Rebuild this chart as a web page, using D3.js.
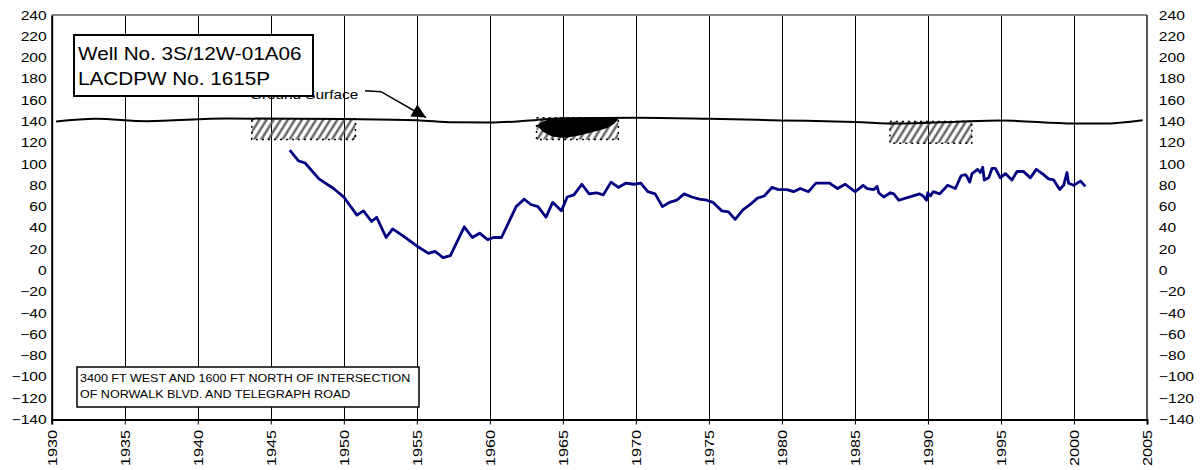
<!DOCTYPE html>
<html><head><meta charset="utf-8">
<script src="https://cdn.jsdelivr.net/npm/d3@7"></script>
<style>body{margin:0;background:#fff;} svg{display:block;font-family:"Liberation Sans",Arial,sans-serif;}</style>
</head><body>
<svg id="c" width="1202" height="470"></svg>
<script>
// water level data (year, elevation ft)
const wlYears = [1946.3,1946.9,1947.35,1948.3,1949.3,1950.0,1950.9,1951.35,1951.9,1952.25,1952.9,1953.35,1954.1,1955.0,1955.8,1956.25,1956.8,1957.3,1958.25,1958.8,1959.3,1959.85,1960.25,1960.8,1961.8,1962.35,1962.8,1963.3,1963.85,1964.3,1964.9,1965.3,1965.76,1966.3,1966.8,1967.3,1967.77,1968.3,1968.8,1969.3,1969.87,1970.34,1970.82,1971.32,1971.82,1972.3,1972.8,1973.3,1973.83,1974.35,1974.86,1975.27,1975.89,1976.34,1976.8,1977.33,1977.83,1978.33,1978.79,1979.32,1979.77,1980.34,1980.8,1981.25,1981.82,1982.33,1983.26,1983.81,1984.34,1984.91,1985.03,1985.56,1985.83,1986.29,1986.52,1986.63,1986.97,1987.43,1987.66,1988.0,1989.44,1989.67,1989.9,1989.99,1990.17,1990.36,1990.81,1991.35,1991.88,1992.27,1992.57,1992.68,1992.86,1993.02,1993.4,1993.59,1993.75,1993.86,1994.16,1994.39,1994.61,1994.96,1995.3,1995.75,1996.1,1996.55,1997.01,1997.42,1997.92,1998.26,1998.61,1999.02,1999.29,1999.52,1999.63,1999.98,2000.44,2000.78];
const wlValues = [113,103,101,86,77,69,52,56,46,50,31,39,32,23,16,18,12,14,41,31,35,29,31,31,60,67,62,60,50,64,56,69,71,81,72,73,71,83,78,82,81,82,74,72,60,64,66,72,69,67,66,64,56,55,48,57,62,68,70,78,76,76,74,77,74,82,82,77,81,75,74,80,77,76,79,73,69,73,72,66,72,70,66,73,70,74,72,80,77,89,90,88,83,91,95,92,97,85,87,96,96,87,91,85,93,93,87,95,90,86,85,76,80,92,82,80,84,79];

// ground surface elevation
const gsYears = [1930.3,1933,1936.5,1942,1950,1955,1957.5,1960,1962.7,1965,1970,1975,1980,1985,1988,1992,1995,2000,2002,2004.7];
const gsValues = [140,142.5,140.3,142.8,142.2,141.2,139.2,139,140.8,143,143.5,142.5,141,139.5,138,139.8,140.8,138,138,141.2];

// perforation intervals (hatched boxes)
const boxStart = [1943.7, 1963.2, 1987.4];
const boxEnd   = [1950.8, 1968.8, 1993.0];
const boxTop   = [142.5, 143.5, 140];
const boxBottom= [123, 123, 119.6];

// black filled shape
const blkYears = [1963.22,1963.7,1964.1,1966.0,1968.81,1968.5,1968.0,1967.2,1966.2,1965.16,1964.25,1963.67];
const blkValues = [136.1,140.5,142,142.5,142.4,137.5,133.5,130.5,127,124.5,125.8,130];

const xTicks = d3.range(1930, 2006, 5);
const yTicks = d3.range(-140, 241, 20);

const titleLines = ["Well No. 3S/12W-01A06", "LACDPW No. 1615P"];
const locLines = ["3400 FT WEST AND 1600 FT NORTH OF INTERSECTION", "OF NORWALK BLVD. AND TELEGRAPH ROAD"];
const gsLabel = "Ground Surface";

const svg = d3.select("#c");
const L = 51.7, R = 1147, T = 15, B = 419.5;
const x = d3.scaleLinear().domain([1930, 2005]).range([L, R]);
const y = d3.scaleLinear().domain([-140, 240]).range([B, T]);
const SX = 1.25;

const defs = svg.append("defs");
const pat = defs.append("pattern").attr("id","hatch").attr("patternUnits","userSpaceOnUse")
  .attr("width",6).attr("height",6).attr("patternTransform","rotate(32)");
pat.append("line").attr("x1",1.5).attr("y1",0).attr("x2",1.5).attr("y2",6)
  .attr("stroke","#555").attr("stroke-width",2.2);

// vertical gridlines
svg.append("g").selectAll("line").data(xTicks.slice(1,-1)).join("line")
  .attr("x1",d=>Math.round(x(d))+0.5).attr("x2",d=>Math.round(x(d))+0.5).attr("y1",T).attr("y2",B)
  .attr("stroke","#000").attr("stroke-width",1);

// plot border
svg.append("line").attr("x1",L).attr("x2",R).attr("y1",T).attr("y2",T).attr("stroke","#888").attr("stroke-width",2);
svg.append("line").attr("x1",R).attr("x2",R).attr("y1",T).attr("y2",B).attr("stroke","#222").attr("stroke-width",1.5);

// hatched boxes
const boxes = boxStart.map((s,i)=>({s, e: boxEnd[i], t: boxTop[i], b: boxBottom[i]}));
svg.append("g").selectAll("rect").data(boxes).join("rect")
  .attr("x",d=>x(d.s)).attr("y",d=>y(d.t)).attr("width",d=>x(d.e)-x(d.s)).attr("height",d=>y(d.b)-y(d.t))
  .attr("fill","url(#hatch)").attr("stroke","#000").attr("stroke-width",1.5).attr("stroke-dasharray","2,4");

// black shape
svg.append("path").datum(blkYears.map((d,i)=>[d, blkValues[i]]))
  .attr("d", d3.line().x(d=>x(d[0])).y(d=>y(d[1])).curve(d3.curveLinearClosed))
  .attr("fill","#000");

// ground surface line
svg.append("path").datum(gsYears.map((d,i)=>[d, gsValues[i]]))
  .attr("d", d3.line().x(d=>x(d[0])).y(d=>y(d[1])).curve(d3.curveMonotoneX))
  .attr("fill","none").attr("stroke","#000").attr("stroke-width",2);

// water level line
svg.append("path").datum(wlYears.map((d,i)=>[d, wlValues[i]]))
  .attr("d", d3.line().x(d=>x(d[0])).y(d=>y(d[1])))
  .attr("fill","none").attr("stroke","#000080").attr("stroke-width",2.8).attr("stroke-linejoin","round");

// Ground surface label + arrow
svg.append("text").attr("transform","translate(250,99) scale(1.18,1)").attr("font-size",13).text(gsLabel);
defs.append("marker").attr("id","arr").attr("viewBox","0 0 10 10").attr("refX",10).attr("refY",5)
  .attr("markerWidth",15).attr("markerHeight",14).attr("markerUnits","userSpaceOnUse").attr("orient","auto")
  .append("path").attr("d","M0,0L10,5L0,10Z").attr("fill","#000");
svg.append("path").attr("d","M365,90.7L381,91.7L426,117.5").attr("fill","none").attr("stroke","#000")
  .attr("stroke-width",1.5).attr("marker-end","url(#arr)");

// axes
const yAxisL = svg.append("g").attr("transform",`translate(${L},0)`)
  .call(d3.axisLeft(y).tickValues(yTicks).tickSize(0).tickPadding(4));
yAxisL.select(".domain").attr("stroke","#000").attr("stroke-width",2);
const yAxisR = svg.append("g").attr("transform",`translate(${R},0)`)
  .call(d3.axisRight(y).tickValues(yTicks).tickSize(0).tickPadding(9.5));
yAxisR.select(".domain").remove();
[yAxisL, yAxisR].forEach(g=>g.selectAll("text").attr("font-size",12.5).attr("font-family","Liberation Sans, Arial")
  .attr("fill","#000").attr("transform",`scale(${SX},1)`));

const xAxis = svg.append("g").attr("transform",`translate(0,${B})`)
  .call(d3.axisBottom(x).tickValues(xTicks).tickFormat(d3.format("d")).tickSize(5).tickPadding(3));
xAxis.select(".domain").attr("stroke","#000").attr("stroke-width",2);
xAxis.selectAll("line").attr("stroke","#000");
xAxis.selectAll("text").attr("font-size",12.5).attr("font-family","Liberation Sans, Arial").attr("fill","#000")
  .attr("transform",`rotate(-90) scale(1.3,1)`).attr("text-anchor","end").attr("dy","0.35em").attr("x",-8).attr("y",0);

// title box
const tb = svg.append("g");
tb.append("rect").attr("x",74).attr("y",35).attr("width",239).attr("height",61).attr("fill","#fff").attr("stroke","#000").attr("stroke-width",2);
tb.selectAll("text").data(titleLines).join("text").attr("transform",(d,i)=>`translate(78,${60+i*25}) scale(1.12,1)`)
  .attr("font-size",18.5).text(d=>d);

// location box
const lb = svg.append("g");
lb.append("rect").attr("x",77).attr("y",367).attr("width",342).attr("height",40).attr("fill","#fff").attr("stroke","#000").attr("stroke-width",1.5);
lb.selectAll("text").data(locLines).join("text").attr("transform",(d,i)=>`translate(80,${382+i*15.5}) scale(1.14,1)`)
  .attr("font-size",11).text(d=>d);
</script>
</body></html>
